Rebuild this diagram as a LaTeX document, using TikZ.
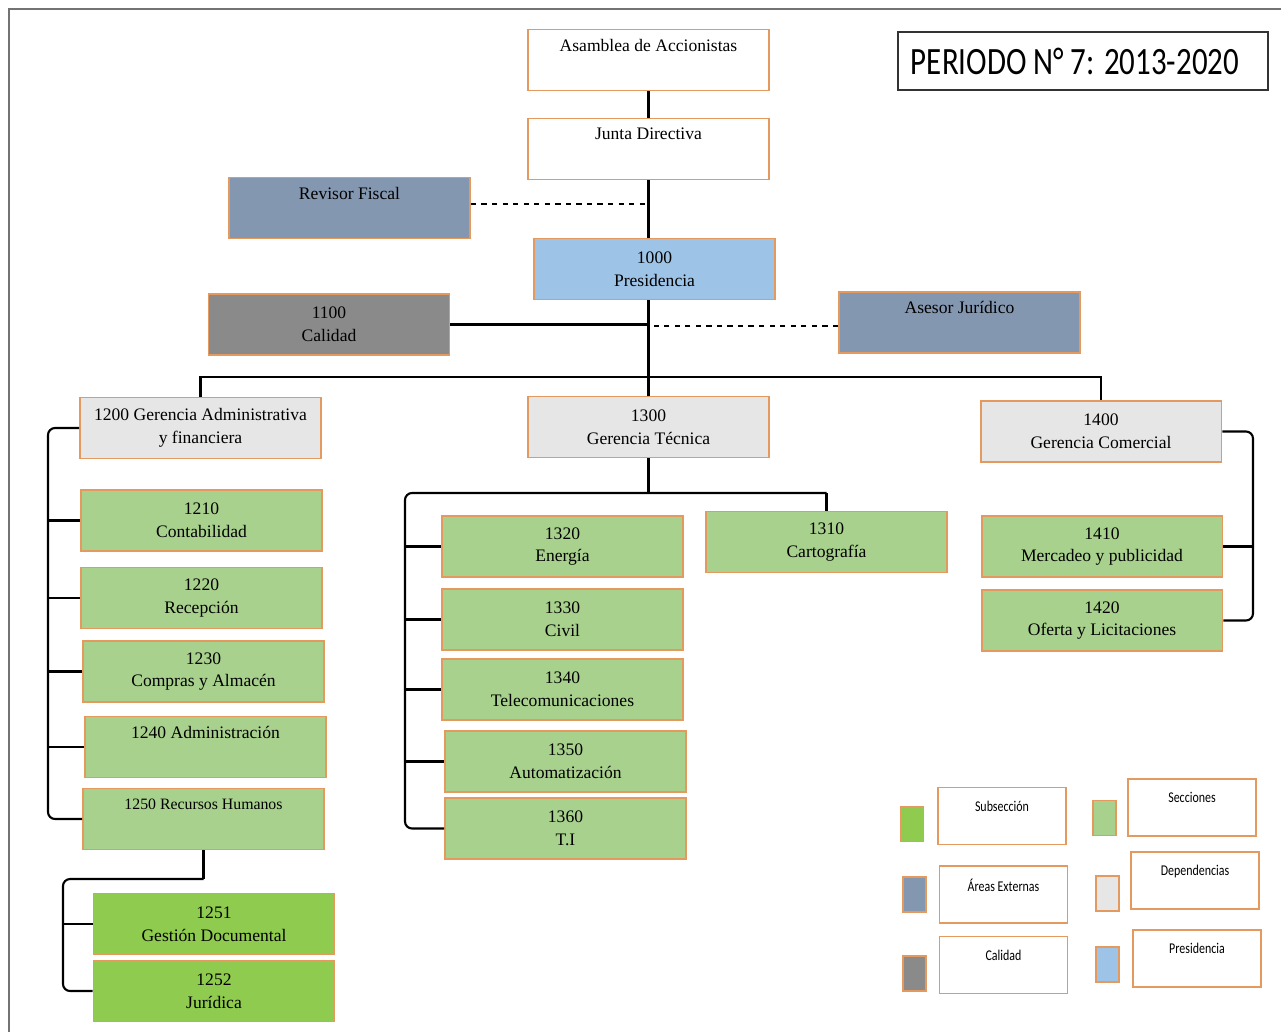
\documentclass[tikz,border=0pt]{standalone}
\usepackage{fontspec}
\setmainfont{Liberation Serif}
\newfontfamily\legfont{Carlito}
\usetikzlibrary{positioning}
\definecolor{borde}{HTML}{E49A5E}
\definecolor{seccion}{HTML}{A9D18E}
\definecolor{subsec}{HTML}{8FCB4E}
\definecolor{externa}{HTML}{8497B0}
\definecolor{calidad}{HTML}{8A8A8A}
\definecolor{depend}{HTML}{E7E6E6}
\definecolor{presid}{HTML}{9DC3E6}
\newcommand{\squeeze}[2]{\scalebox{0.8}[1]{\legfont\fontsize{#1}{#1}\selectfont #2}}
\tikzset{
  box/.style={draw=borde, line width=1.1pt, minimum width=4.82cm, minimum height=1.22cm,
    inner sep=0pt, align=center, font=\fontsize{10}{13}\selectfont},
  leg/.style={draw=borde, line width=1.1pt, fill=white, minimum width=2.56cm, minimum height=1.14cm, inner sep=0pt},
  swatch/.style={draw=borde, line width=1.1pt, minimum width=0.46cm, minimum height=0.7cm, inner sep=0pt},
  conn/.style={line width=1.2pt},
  dashconn/.style={line width=1.2pt, dashed}
}
\begin{document}
\begin{tikzpicture}[x=0.02cm, y=-0.02cm]
    \useasboundingbox (0,0) rectangle (1281,1032);
    % frame
    \coordinate (fa) at (9,1032);
    \coordinate (fb) at (9,9);
    \coordinate (fc) at (1281,9);
    \draw[line width=1.6pt, gray!90!black] (fa) -- (fb) -- (fc);

    \node[draw=black!80, line width=0.8pt, minimum width=7.4cm, minimum height=1.16cm] (periodo) at (1083,61)
        {\squeeze{22}{PERIODO N° 7: 2013-2020}\hspace*{0.32cm}};

    % top of the chart
    \node[box, fill=white] (asam) at (648.5,60) {Asamblea de Accionistas\\\strut};
    \node[box, fill=white] (junta) at (648.5,149) {Junta Directiva\\\strut};
    \node[box, fill=externa] (rev) at (349.5,208) {Revisor Fiscal\\\strut};
    \node[box, fill=presid] (pres) at (654.5,269) {1000\\Presidencia};
    \node[box, fill=calidad] (cal) at (329,324.5) {1100\\Calidad};
    \node[box, fill=externa] (ases) at (959.5,322.5) {Asesor Jurídico\\\strut};

    % gerencias
    \node[box, fill=depend] (g1200) at (200.5,428) {1200 Gerencia Administrativa\\y financiera};
    \node[box, fill=depend] (g1300) at (648.5,427) {1300\\Gerencia Técnica};
    \node[box, fill=depend] (g1400) at (1101,431.5) {1400\\Gerencia Comercial};

    % secciones
    \node[box, fill=seccion] (s1210) at (201.5,520.5) {1210\\Contabilidad};
    \node[box, fill=seccion] (s1220) at (201.5,598) {1220\\Recepción};
    \node[box, fill=seccion] (s1230) at (203.5,671.5) {1230\\Compras y Almacén};
    \node[box, fill=seccion] (s1240) at (205.5,747) {1240 Administración\\\strut};
    \node[box, fill=seccion] (s1250) at (203.5,819) {\fontsize{9}{13}\selectfont 1250 Recursos Humanos\\\strut};
    \node[box, fill=subsec] (ss1251) at (214,924) {1251\\Gestión Documental};
    \node[box, fill=subsec] (ss1252) at (214,991) {1252\\Jurídica};

    \node[box, fill=seccion] (s1310) at (826.5,542) {1310\\Cartografía};
    \node[box, fill=seccion] (s1320) at (562.5,546.5) {1320\\Energía};
    \node[box, fill=seccion] (s1330) at (562.5,619.5) {1330\\Civil};
    \node[box, fill=seccion] (s1340) at (562.5,689.5) {1340\\Telecomunicaciones};
    \node[box, fill=seccion] (s1350) at (565.5,761.5) {1350\\Automatización};
    \node[box, fill=seccion] (s1360) at (565.5,828.5) {1360\\T.I};

    \node[box, fill=seccion] (s1410) at (1102,546.5) {1410\\Mercadeo y publicidad};
    \node[box, fill=seccion] (s1420) at (1102,620.5) {1420\\Oferta y Licitaciones};

    % connectors
    \draw[conn] (asam) -- (junta);
    \draw[conn] (junta.south) -- (junta.south |- pres.north);
    \draw[dashconn] (rev.east |- 0,204) -- (junta.south |- 0,204);
    \draw[conn] (g1300.north |- pres.south) -- (g1300.north);
    \draw[conn] (cal.east) -- (cal.east -| g1300.north);
    \draw[dashconn, shorten >=3pt] (ases.west |- 0,326) -- (g1300.north |- 0,326);

    \coordinate (bar) at (649,377);
    \draw[conn] (g1200.north) |- (bar) -| (g1400.north);

    \coordinate (lrail) at (48,0);
    \draw[conn, rounded corners=4pt] (g1200.west) -- (g1200.west -| lrail) -- (s1250.west -| lrail) -- (s1250.west);
    \foreach \n in {s1210,s1220,s1230,s1240}
        \draw[conn] (\n.west -| lrail) -- (\n.west);

    \coordinate (trail) at (405,493);
    \draw[conn] (g1300.south) -- (g1300.south |- trail);
    \draw[conn] (s1310.north) -- (s1310.north |- trail);
    \draw[conn, rounded corners=4pt] (s1310.north |- trail) -- (trail) -- (s1360.west -| trail) -- (s1360.west);
    \foreach \n in {s1320,s1330,s1340,s1350}
        \draw[conn] (\n.west -| trail) -- (\n.west);

    \coordinate (rrail) at (1253,0);
    \draw[conn, rounded corners=4pt] (g1400.east) -- (g1400.east -| rrail) -- (s1420.east -| rrail) -- (s1420.east);
    \draw[conn] (s1410.east) -- (s1410.east -| rrail);

    \coordinate (sub) at (63,879);
    \draw[conn] (s1250.south) -- (s1250.south |- sub);
    \draw[conn, rounded corners=4pt] (s1250.south |- sub) -- (sub) -- (ss1252.west -| sub) -- (ss1252.west);
    \draw[conn] (ss1251.west -| sub) -- (ss1251.west);

    % legend
    \foreach \n/\x/\y/\sx/\sy/\c/\t in {lsub/1002/816/912/824/subsec/Subsección,
                                        lsec/1192/807.5/1104.5/818/seccion/Secciones,
                                        lext/1003.5/894.5/914.5/894.5/externa/Áreas Externas,
                                        ldep/1195/880.5/1107.5/893.5/depend/Dependencias,
                                        lcal/1003.5/965/914.5/973.5/calidad/Calidad,
                                        lpre/1197/958.5/1107.5/964.5/presid/Presidencia}{
        \node[leg, label={[anchor=north, yshift=-8pt, inner sep=0pt]north:\squeeze{8.5}{\t}}] (\n) at (\x,\y) {};
        \node[swatch, fill=\c] (\n sw) at (\sx,\sy) {};
    }
\end{tikzpicture}
\end{document}
